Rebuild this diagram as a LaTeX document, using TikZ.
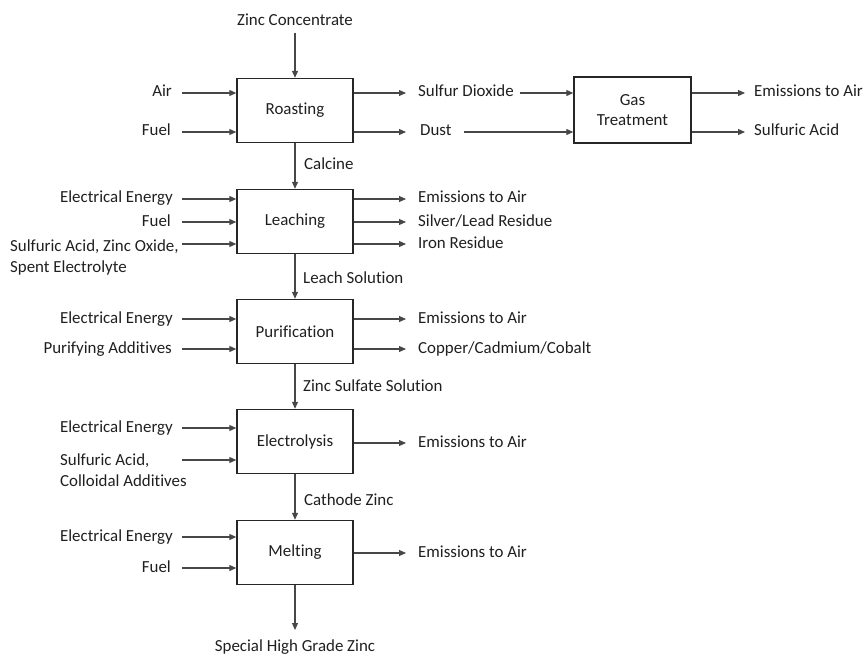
\documentclass[tikz,border=0pt]{standalone}
\usepackage{fontspec}
\setmainfont{Carlito}[Ligatures=NoCommon]
\usetikzlibrary{arrows.meta}
\begin{document}
\begin{tikzpicture}[x=1pt,y=-1pt,
  every node/.style={font=\fontsize{16.9pt}{20.5pt}\selectfont, text=black!88},
  proc/.style={draw=black!85, line width=1.4pt, minimum width=116pt, minimum height=64pt, inner sep=0pt, align=center},
  lbl/.style={inner sep=0pt, text height=11.5pt, text depth=3.5pt},
  mlbl/.style={inner sep=0pt, align=left},
  arr/.style={draw=black!72, line width=1.1pt, -{Triangle[length=7pt,width=6pt]}}]
\useasboundingbox (0,0) rectangle (864,655);

% process boxes
\node[proc] (roast) at (295,110.5) {Roasting};
\node[proc] (leach) at (295,221.5) {Leaching};
\node[proc] (pur)   at (295,331.5) {Purification};
\node[proc] (elec)  at (295,441.5) {Electrolysis};
\node[proc] (melt)  at (295,552.5) {Melting};
\node[proc, minimum width=117pt, minimum height=66pt] (gas) at (632.5,110) {Gas\\Treatment};

% main chain
\node[lbl] (zc) at (295,22) {Zinc Concentrate};
\draw[arr] ([yshift=-3pt]zc.south) -- (roast.north);
\draw[arr] (roast.south) -- (leach.north);
\node[lbl, anchor=west] (calc) at (304,166) {Calcine};
\draw[arr] (leach.south) -- (pur.north);
\node[lbl, anchor=west] (lsol) at (303,279) {Leach Solution};
\draw[arr] (pur.south) -- (elec.north);
\node[lbl, anchor=west] (zss) at (303,387) {Zinc Sulfate Solution};
\draw[arr] (elec.south) -- (melt.north);
\node[lbl, anchor=west] (cz) at (304,501) {Cathode Zinc};
\coordinate (endz) at (295,630);
\draw[arr] (melt.south) -- (endz);
\node[lbl] (shg) at (295,647) {Special High Grade Zinc};

% roasting
\node[lbl, anchor=east] (air) at (172,93) {Air};
\draw[arr] ([xshift=10pt]air.east) -- (roast.west |- air.east);
\node[lbl, anchor=east] (fuelr) at (171,132) {Fuel};
\draw[arr] ([xshift=11pt]fuelr.east) -- (roast.west |- fuelr.east);
\node[lbl, anchor=west] (so2) at (418,93) {Sulfur Dioxide};
\draw[arr] (roast.east |- so2.west) -- ([xshift=-12pt]so2.west);
\node[lbl, anchor=west] (dust) at (420,132) {Dust};
\draw[arr] (roast.east |- dust.west) -- ([xshift=-14pt]dust.west);
\draw[arr] ([xshift=6pt]so2.east) -- (gas.west |- so2.east);
\draw[arr] ([xshift=12pt]dust.east) -- (gas.west |- dust.east);
\node[lbl, anchor=west] (gemis) at (754,93) {Emissions to Air};
\draw[arr] (gas.east |- gemis.west) -- ([xshift=-9pt]gemis.west);
\node[lbl, anchor=west] (sacid) at (754,132) {Sulfuric Acid};
\draw[arr] (gas.east |- sacid.west) -- ([xshift=-9pt]sacid.west);

% leaching
\node[lbl, anchor=east] (lee) at (173,199) {Electrical Energy};
\draw[arr] ([xshift=9pt]lee.east) -- (leach.west |- lee.east);
\node[lbl, anchor=east] (lfuel) at (171,222) {Fuel};
\draw[arr] ([xshift=11pt]lfuel.east) -- (leach.west |- lfuel.east);
\node[mlbl, anchor=base west] (lsa) at (10,272) {Sulfuric Acid, Zinc Oxide,\\Spent Electrolyte};
\coordinate (lsac) at (182,244);
\draw[arr] (lsac) -- (leach.west |- lsac);
\node[lbl, anchor=west] (lemis) at (418,199) {Emissions to Air};
\draw[arr] (leach.east |- lemis.west) -- ([xshift=-12pt]lemis.west);
\node[lbl, anchor=west] (silver) at (418,222) {Silver/Lead Residue};
\draw[arr] (leach.east |- silver.west) -- ([xshift=-12pt]silver.west);
\node[lbl, anchor=west] (iron) at (418,244) {Iron Residue};
\draw[arr] (leach.east |- iron.west) -- ([xshift=-12pt]iron.west);

% purification
\node[lbl, anchor=east] (pee) at (173,319) {Electrical Energy};
\draw[arr] ([xshift=9pt]pee.east) -- (pur.west |- pee.east);
\node[lbl, anchor=east] (padd) at (172,349) {Purifying Additives};
\draw[arr] ([xshift=10pt]padd.east) -- (pur.west |- padd.east);
\node[lbl, anchor=west] (pemis) at (418,319) {Emissions to Air};
\draw[arr] (pur.east |- pemis.west) -- ([xshift=-12pt]pemis.west);
\node[lbl, anchor=west] (ccc) at (418,349) {Copper/Cadmium/Cobalt};
\draw[arr] (pur.east |- ccc.west) -- ([xshift=-12pt]ccc.west);

% electrolysis
\node[lbl, anchor=east] (eee) at (173,428) {Electrical Energy};
\draw[arr] ([xshift=9pt]eee.east) -- (elec.west |- eee.east);
\node[mlbl, anchor=base west] (esa) at (60,486) {Sulfuric Acid,\\Colloidal Additives};
\coordinate (esac) at (182,460);
\draw[arr] (esac) -- (elec.west |- esac);
\node[lbl, anchor=west] (eemis) at (418,443) {Emissions to Air};
\draw[arr] (elec.east |- eemis.west) -- ([xshift=-12pt]eemis.west);

% melting
\node[lbl, anchor=east] (mee) at (173,537) {Electrical Energy};
\draw[arr] ([xshift=9pt]mee.east) -- (melt.west |- mee.east);
\node[lbl, anchor=east] (mfuel) at (171,568) {Fuel};
\draw[arr] ([xshift=11pt]mfuel.east) -- (melt.west |- mfuel.east);
\node[lbl, anchor=west] (memis) at (418,553) {Emissions to Air};
\draw[arr] (melt.east |- memis.west) -- ([xshift=-12pt]memis.west);
\end{tikzpicture}
\end{document}
